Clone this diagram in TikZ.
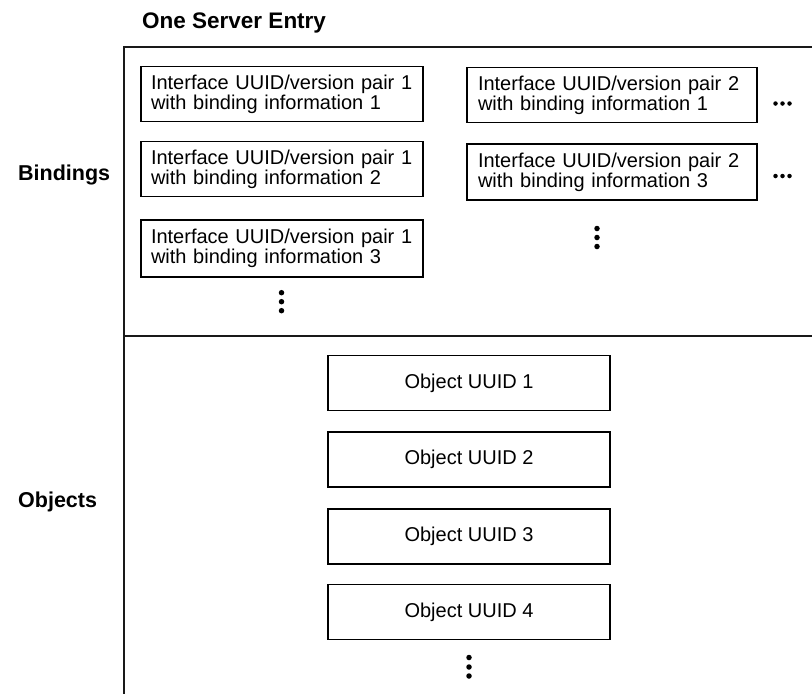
\documentclass[tikz,border=0pt]{standalone}
\usepackage{fontspec}
\setmainfont{Liberation Sans}
\begin{document}
\begin{tikzpicture}[x=1pt,y=-1pt,
  frame/.style={line width=1.8pt,black!90},
  bindbox/.style={draw,line width=1.6pt,align=left,inner xsep=10pt,inner ysep=0pt,
     minimum height=55pt,font=\fontsize{20}{20}\selectfont},
  objbox/.style={draw,line width=1.6pt,minimum width=282pt,minimum height=55pt,
     inner sep=0pt,font=\fontsize{20}{20}\selectfont},
  heading/.style={anchor=base west,inner sep=0pt,font=\fontsize{21.5}{24}\selectfont\bfseries},
  dot/.style={circle,fill=black,inner sep=0pt,minimum size=5.5pt},
  sdot/.style={circle,fill=black,inner sep=0pt,minimum size=4.5pt}
]
\useasboundingbox (0,0) rectangle (812,694);
% title and section labels
\node[heading,font=\fontsize{22.5}{24}\selectfont\bfseries] (title) at (142,28) {One Server Entry};
\node[heading] (bind) at (18,180) {Bindings};
\node[heading] (obj) at (18,507) {Objects};
% frame
\coordinate (fbl) at (124,694);
\coordinate (ftl) at (124,47);
\coordinate (ftr) at (812,47);
\coordinate (dl) at (124,336);
\coordinate (dr) at (812,336);
\draw[frame] (fbl) -- (ftl) -- (ftr);
\draw[frame] (dl) -- (dr);
% binding boxes
\node[bindbox,text width=262pt] (b11) at (282,94) {Interface UUID/version pair 1\\with binding information 1};
\node[bindbox,text width=262pt] (b12) at (282,169) {Interface UUID/version pair 1\\with binding information 2};
\node[bindbox,text width=262pt,minimum height=57pt] (b13) at (282,248.5) {Interface UUID/version pair 1\\with binding information 3};
\node[bindbox,text width=268pt,inner xsep=11pt] (b21) at (612,95) {Interface UUID/version pair 2\\with binding information 1};
\node[bindbox,text width=268pt,inner xsep=11pt,minimum height=56pt] (b22) at (612,172) {Interface UUID/version pair 2\\with binding information 3};
% object boxes
\node[objbox] (o1) at (469,383) {Object UUID 1};
\node[objbox] (o2) at (469,459.5) {Object UUID 2};
\node[objbox] (o3) at (469,536.5) {Object UUID 3};
\node[objbox] (o4) at (469,612) {Object UUID 4};
% vertical ellipses
\foreach \y [count=\i] in {292.7,301.7,310.7} \node[dot] (va\i) at (281.5,\y) {};
\foreach \y [count=\i] in {228.5,237.5,246.5} \node[dot] (vb\i) at (597,\y) {};
\foreach \y [count=\i] in {657.5,667,676} \node[dot] (vc\i) at (469,\y) {};
% horizontal ellipses
\foreach \x [count=\i] in {775.5,782.5,789.5} \node[sdot] (ha\i) at (\x,103.5) {};
\foreach \x [count=\i] in {775.5,782.5,789.5} \node[sdot] (hb\i) at (\x,176) {};
\end{tikzpicture}
\end{document}
